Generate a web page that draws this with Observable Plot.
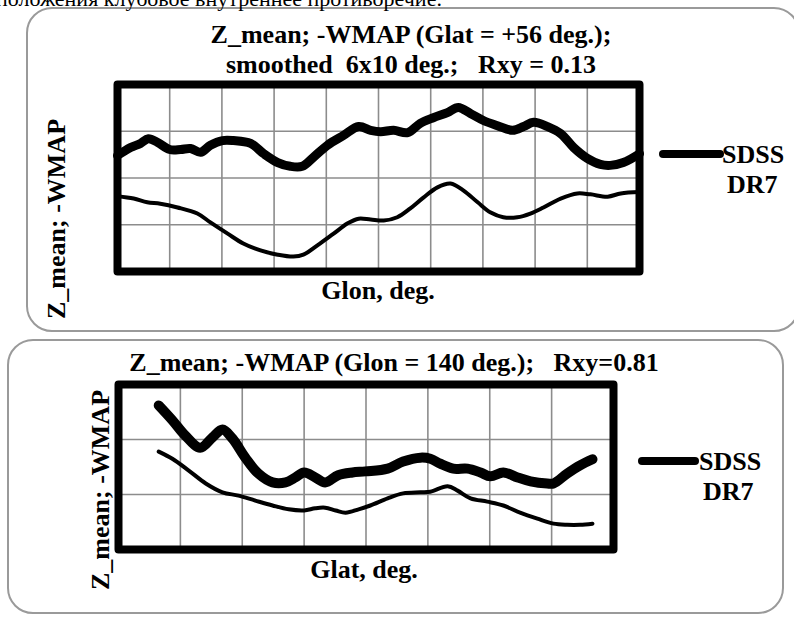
<!DOCTYPE html>
<html>
<head>
<meta charset="utf-8">
<script src="https://cdn.jsdelivr.net/npm/d3@7"></script>
<script src="https://cdn.jsdelivr.net/npm/@observablehq/plot@0.6"></script>
<style>
  html, body { margin: 0; padding: 0; background: #fff; }
  #root { position: relative; width: 794px; height: 619px; overflow: hidden; background: #fff; }
  .panel { position: absolute; box-sizing: border-box; border: 2px solid #9a9a9a; border-radius: 26px; }
  .layer { position: absolute; left: 0; top: 0; }
  svg text { font-family: "Liberation Serif", "Times New Roman", serif; white-space: pre; }
</style>
</head>
<body>
<div id="root">
  <div class="panel" style="left:26px;top:7px;width:774px;height:325px;"></div>
  <div class="panel" style="left:7px;top:339px;width:777px;height:275px;"></div>
  <div id="top" class="layer"></div>
  <div id="bottom" class="layer"></div>
  <svg class="layer" width="794" height="619" style="overflow:visible">
    <text x="-4" y="6" font-size="22">положения клубовое внутреннее противоречие.</text>
    <g font-weight="bold" font-size="26" fill="#000">
      <text x="411" y="43" text-anchor="middle">Z_mean; -WMAP (Glat = +56 deg.);</text>
      <text x="411" y="73" text-anchor="middle">smoothed  6x10 deg.;   Rxy = 0.13</text>
      <text x="378" y="299" text-anchor="middle">Glon, deg.</text>
      <text transform="translate(65,219) rotate(-90)" text-anchor="middle">Z_mean; -WMAP</text>
      <line x1="663" x2="720" y1="154" y2="154" stroke="#000" stroke-width="8" stroke-linecap="round"/>
      <text x="722" y="163">SDSS</text>
      <text x="727" y="193">DR7</text>

      <text x="394" y="371" text-anchor="middle">Z_mean; -WMAP (Glon = 140 deg.);   Rxy=0.81</text>
      <text x="364" y="578" text-anchor="middle">Glat, deg.</text>
      <text transform="translate(109,490) rotate(-90)" text-anchor="middle">Z_mean; -WMAP</text>
      <line x1="642" x2="695" y1="461" y2="461" stroke="#000" stroke-width="8" stroke-linecap="round"/>
      <text x="699" y="470">SDSS</text>
      <text x="703" y="500">DR7</text>
    </g>
  </svg>
</div>
<script>
// ---- Top panel (Glat = +56 deg.), x and y in grid units ----
const topXTicks = [0, 1, 2, 3, 4, 5, 6, 7, 8, 9, 10];
const topYTicks = [0, 1, 2, 3, 4];
const topSdssX = [0, 0.25, 0.44, 0.59, 0.77, 1.0, 1.21, 1.40, 1.59, 1.78, 2.01, 2.22, 2.55, 2.80, 3.07, 3.31, 3.54, 3.75, 4.02, 4.33, 4.62, 4.85, 5.04, 5.29, 5.56, 5.80, 6.05, 6.32, 6.53, 6.76, 7.01, 7.28, 7.57, 7.78, 7.97, 8.24, 8.49, 8.74, 9.00, 9.25, 9.44, 9.69, 10];
const topSdssY = [2.48, 2.65, 2.74, 2.84, 2.76, 2.61, 2.61, 2.63, 2.55, 2.70, 2.80, 2.80, 2.74, 2.52, 2.33, 2.25, 2.25, 2.44, 2.70, 2.91, 3.10, 3.02, 2.99, 3.02, 2.97, 3.17, 3.29, 3.40, 3.51, 3.38, 3.23, 3.12, 3.02, 3.10, 3.19, 3.10, 2.95, 2.65, 2.42, 2.29, 2.27, 2.33, 2.52];
const topWmapX = [0, 0.31, 0.57, 0.82, 1.15, 1.53, 1.78, 2.11, 2.41, 2.74, 3.07, 3.37, 3.56, 3.83, 4.14, 4.41, 4.62, 4.85, 5.10, 5.36, 5.61, 5.86, 6.13, 6.38, 6.63, 6.90, 7.15, 7.39, 7.66, 7.91, 8.16, 8.49, 8.81, 9.06, 9.39, 9.64, 10];
const topWmapY = [1.61, 1.56, 1.48, 1.45, 1.37, 1.24, 1.05, 0.81, 0.60, 0.45, 0.36, 0.32, 0.36, 0.56, 0.81, 1.03, 1.13, 1.11, 1.09, 1.16, 1.35, 1.58, 1.80, 1.88, 1.73, 1.48, 1.26, 1.16, 1.16, 1.24, 1.37, 1.56, 1.67, 1.65, 1.60, 1.67, 1.70];

// ---- Bottom panel (Glon = 140 deg.) ----
const botXTicks = [0, 1, 2, 3, 4, 5, 6, 7, 8];
const botYTicks = [0, 1, 2, 3];
const botSdssX = [0.65, 0.87, 1.08, 1.32, 1.52, 1.68, 1.84, 2.05, 2.26, 2.49, 2.70, 2.86, 3.00, 3.18, 3.34, 3.55, 3.78, 3.99, 4.35, 4.60, 4.88, 5.04, 5.20, 5.41, 5.64, 5.85, 6.01, 6.22, 6.45, 6.66, 6.93, 7.03, 7.25, 7.46, 7.66];
const botSdssY = [2.62, 2.35, 2.07, 1.85, 2.04, 2.18, 2.02, 1.67, 1.38, 1.22, 1.22, 1.31, 1.40, 1.31, 1.22, 1.35, 1.40, 1.42, 1.47, 1.60, 1.67, 1.65, 1.56, 1.47, 1.47, 1.40, 1.33, 1.40, 1.31, 1.24, 1.20, 1.20, 1.38, 1.53, 1.64];
const botWmapX = [0.65, 0.87, 1.13, 1.41, 1.68, 1.94, 2.21, 2.49, 2.75, 3.00, 3.18, 3.34, 3.51, 3.67, 3.88, 4.07, 4.35, 4.60, 4.88, 5.04, 5.32, 5.48, 5.69, 5.96, 6.22, 6.49, 6.77, 7.03, 7.25, 7.46, 7.66];
const botWmapY = [1.78, 1.65, 1.44, 1.20, 1.04, 0.98, 0.89, 0.80, 0.73, 0.71, 0.75, 0.76, 0.71, 0.67, 0.73, 0.80, 0.93, 1.02, 1.04, 1.05, 1.15, 1.07, 0.93, 0.87, 0.80, 0.67, 0.56, 0.47, 0.45, 0.45, 0.47];

const pts = (xs, ys) => xs.map((x, i) => ({x, y: ys[i]}));
const gridStyle = {stroke: "#8c8c8c", strokeOpacity: 1, strokeWidth: 1.6};

function panel({xTicks, yTicks, sdss, wmap, margins, thick}) {
  return Plot.plot({
    width: 794,
    height: 619,
    ...margins,
    style: {background: "transparent", overflow: "visible"},
    x: {domain: [xTicks[0], xTicks[xTicks.length - 1]], axis: null},
    y: {domain: [yTicks[0], yTicks[yTicks.length - 1]], axis: null},
    marks: [
      Plot.gridX(xTicks, gridStyle),
      Plot.gridY(yTicks, gridStyle),
      Plot.line(wmap, {x: "x", y: "y", stroke: "#000", strokeWidth: 4, curve: "catmull-rom", strokeLinecap: "round", strokeLinejoin: "round"}),
      Plot.line(sdss, {x: "x", y: "y", stroke: "#000", strokeWidth: thick, curve: "catmull-rom", strokeLinecap: "round", strokeLinejoin: "round"}),
      Plot.frame({stroke: "#000", strokeWidth: 8, strokeLinejoin: "round"})
    ]
  });
}

document.getElementById("top").append(panel({
  xTicks: topXTicks, yTicks: topYTicks,
  sdss: pts(topSdssX, topSdssY), wmap: pts(topWmapX, topWmapY),
  margins: {marginLeft: 117, marginRight: 155, marginTop: 84, marginBottom: 348},
  thick: 9
}));
document.getElementById("bottom").append(panel({
  xTicks: botXTicks, yTicks: botYTicks,
  sdss: pts(botSdssX, botSdssY), wmap: pts(botWmapX, botWmapY),
  margins: {marginLeft: 118, marginRight: 181, marginTop: 384, marginBottom: 70},
  thick: 10
}));
</script>
</body>
</html>
